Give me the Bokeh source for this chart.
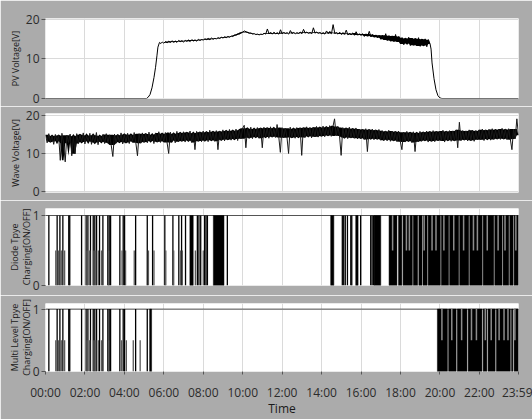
import numpy as np
from bokeh.plotting import figure
from bokeh.models import Range1d, FixedTicker, ColumnDataSource
from bokeh.layouts import column
from bokeh.embed import file_html
from bokeh.resources import INLINE

# ---------------- data ----------------
tick_minutes = [0, 120, 240, 360, 480, 600, 720, 840, 960, 1080, 1200, 1320, 1439]
tick_labels = ["00:00", "02:00", "04:00", "06:00", "08:00", "10:00", "12:00",
               "14:00", "16:00", "18:00", "20:00", "22:00", "23:59"]

# PV voltage: night zeros, morning ramp, 5-minute samples 06:00-19:30, evening drop
pv_ramp_h = [0.0, 5.12, 5.2, 5.3, 5.4, 5.5, 5.58, 5.65, 5.7, 5.78, 5.85, 5.92]
pv_ramp_v = [0.0, 0.0, 0.3, 1.0, 2.7, 5.3, 7.9, 10.8, 13.0, 14.2, 13.9, 14.3]
pv_day_v = [
    14.0, 14.4, 14.1, 14.5, 14.2, 14.6, 14.3, 14.5, 14.2, 14.7, 14.4, 14.6,
    14.3, 14.7, 14.5, 14.8, 14.4, 14.9, 14.6, 14.8, 14.5, 15.0, 14.7, 14.9,
    14.8, 15.1, 14.9, 15.2, 14.9, 15.3, 15.0, 15.2, 15.1, 15.4, 15.2, 15.5,
    15.3, 15.6, 15.4, 15.7, 15.5, 15.8, 15.7, 16.1, 16.0, 16.4, 16.3, 16.7,
    16.8, 17.1, 16.9, 16.7, 16.5, 16.6, 16.3, 16.4, 16.2, 16.3, 16.1, 16.3,
    16.2, 16.5, 16.3, 17.6, 16.4, 16.6, 16.3, 16.8, 16.4, 16.5, 16.3, 17.4,
    16.4, 16.7, 16.5, 16.6, 16.3, 17.2, 16.5, 16.7, 16.4, 16.6, 16.5, 16.8,
    16.4, 17.5, 16.6, 16.8, 16.5, 16.7, 16.4, 17.9, 16.6, 16.8, 16.5, 16.7,
    16.4, 16.6, 16.3, 17.1, 16.5, 16.7, 16.4, 18.7, 16.5, 16.6, 16.3, 16.8,
    16.2, 16.5, 16.3, 17.3, 16.1, 16.4, 16.2, 16.6, 16.0, 16.9, 16.1, 16.3,
    16.0, 16.4, 15.7, 16.3, 15.8, 17.0, 15.6, 16.2, 15.5, 16.1, 15.4, 16.0,
    15.0, 16.0, 14.8, 16.4, 14.7, 15.9, 14.5, 15.8, 14.4, 16.2, 14.3, 15.7,
    13.8, 15.4, 13.6, 15.2, 13.9, 15.5, 13.4, 15.3, 13.5, 15.1, 13.3, 15.4,
    13.2, 15.0, 13.4, 15.1, 13.1, 14.9, 13.8,
]
pv_drop_h = [19.55, 19.6, 19.7, 19.8, 19.9, 20.0, 20.1, 23.983]
pv_drop_v = [12.5, 9.0, 5.0, 2.2, 0.7, 0.15, 0.0, 0.0]

# Wave voltage: 5-minute samples over the day
wave_v = [
    14.9, 12.8, 15.2, 13.1, 14.6, 12.4, 15.0, 13.3, 14.7, 8.2, 15.3, 12.7,
    7.8, 14.8, 12.9, 15.1, 9.4, 14.5, 9.9, 15.2, 12.6, 14.9, 13.0, 15.4,
    12.5, 14.7, 13.2, 15.3, 12.4, 14.8, 12.9, 15.5, 12.3, 14.6, 13.1, 15.0,
    12.6, 15.2, 12.8, 14.9, 12.2, 9.2, 15.1, 12.7, 14.8, 13.0, 15.4, 12.5,
    15.0, 12.9, 15.3, 12.6, 14.9, 13.2, 15.5, 12.8, 9.4, 15.2, 12.7, 15.4,
    13.0, 15.1, 12.8, 15.6, 13.3, 14.9, 12.6, 15.4, 13.1, 15.7, 12.9, 15.2,
    13.2, 15.5, 12.9, 10.0, 15.6, 13.4, 15.2, 12.8, 15.8, 13.1, 15.4, 13.3,
    15.7, 13.0, 15.5, 13.4, 15.9, 12.9, 15.3, 11.0, 15.8, 13.3, 15.6, 13.1,
    15.9, 13.4, 15.6, 13.1, 16.1, 13.5, 15.7, 13.2, 16.0, 11.0, 15.8, 13.6,
    16.2, 13.3, 15.9, 13.7, 16.3, 13.5, 16.0, 13.8, 16.4, 13.4, 16.1, 13.9,
    16.6, 17.4, 11.5, 16.5, 14.1, 16.9, 13.9, 16.4, 14.3, 16.8, 14.0, 16.6,
    11.5, 16.9, 14.3, 16.7, 14.0, 17.0, 14.4, 16.6, 14.2, 17.6, 14.5, 10.3,
    16.8, 14.1, 16.6, 14.4, 10.0, 16.9, 14.2, 16.5, 14.0, 16.8, 14.3, 16.7,
    9.5, 16.8, 14.2, 17.0, 14.5, 16.7, 14.1, 16.9, 14.4, 17.1, 14.3, 16.8,
    14.6, 17.2, 14.4, 16.9, 14.7, 17.3, 14.5, 17.0, 19.1, 14.6, 17.1, 14.8,
    9.5, 16.8, 14.2, 16.6, 13.9, 16.9, 14.1, 16.5, 14.0, 16.7, 13.8, 16.4,
    14.0, 16.3, 13.7, 16.5, 10.5, 16.2, 13.9, 16.4, 13.6, 16.1, 13.8, 16.3,
    13.5, 16.0, 13.3, 15.8, 13.6, 16.1, 13.2, 15.9, 13.4, 15.7, 13.1, 15.9,
    13.2, 11.0, 15.6, 13.0, 15.8, 13.3, 15.5, 12.9, 15.7, 10.5, 15.4, 13.1,
    15.8, 13.2, 15.6, 13.4, 15.9, 13.0, 15.7, 13.3, 16.0, 13.1, 15.8, 13.4,
    15.9, 13.3, 16.1, 13.0, 15.8, 13.5, 16.0, 13.2, 15.9, 13.4, 16.2, 11.5,
    18.2, 13.4, 16.0, 13.6, 15.9, 13.3, 16.2, 13.5, 16.1, 13.2, 15.9, 13.6,
    16.2, 13.6, 16.4, 13.4, 16.1, 13.8, 16.3, 13.5, 16.5, 13.7, 16.2, 13.9,
    16.4, 13.7, 16.6, 13.9, 16.3, 13.6, 16.5, 13.8, 11.0, 16.4, 13.9, 19.1,
    14.8,
]

# Diode type charging: OFF spikes (full), partial spikes (half) and dense switching blocks (hours)
diode_full_h = [0.17, 0.59, 0.73, 0.88, 1.18, 1.23, 1.83, 2.06, 2.15, 2.28, 2.42, 2.50,
                2.59, 2.74, 2.91, 3.16, 3.23, 3.30, 3.77, 3.94, 4.01, 4.57, 5.16, 5.43,
                6.05, 6.46, 6.76, 6.90, 7.10, 7.70, 7.78, 7.87, 8.07, 8.14, 8.21, 9.22,
                15.05, 15.12, 15.20, 15.31, 15.48, 15.53, 15.98, 16.49, 16.56, 16.63]
diode_half_h = [0.52, 0.66, 0.80, 0.97, 2.11, 2.24, 2.46, 2.55, 2.68, 2.84, 3.20, 3.88,
                4.06, 4.50, 5.22, 5.50, 6.10, 6.50, 6.85, 6.94, 7.60, 8.00]
diode_block_start = [7.32, 8.51, 14.46, 15.73, 16.66, 17.42, 17.90, 18.13, 18.65, 18.93, 19.14,
                     19.40, 20.07, 20.49, 21.00, 21.51, 22.19, 22.78, 23.20, 23.54, 23.76]
diode_block_end = [7.49, 9.05, 14.62, 15.85, 17.00, 17.82, 18.07, 18.60, 18.87, 19.09, 19.35,
                   20.02, 20.44, 20.95, 21.46, 22.14, 22.73, 23.15, 23.49, 23.71, 23.98]
diode_upper_h = [17.6, 18.3, 18.45, 19.2, 19.6, 19.8, 20.2, 20.7, 21.2, 21.7, 21.9, 22.4,
                 22.95, 23.3, 23.85]

# Multi level type charging
multi_full_h = [0.17, 0.59, 0.73, 0.88, 1.18, 1.23, 1.83, 2.06, 2.15, 2.28, 2.42, 2.50,
                2.59, 2.74, 2.91, 3.16, 3.23, 3.30, 3.77, 3.94, 4.01, 4.57, 5.16]
multi_half_h = [0.52, 0.66, 0.80, 0.97, 2.11, 2.24, 2.46, 2.55, 2.68, 2.84, 3.20, 3.86,
                4.10, 4.45, 4.80]
multi_block_start = [5.28, 19.87, 20.44, 20.88, 21.43, 22.19, 22.44, 22.86, 23.63, 23.76]
multi_block_end = [5.38, 20.38, 20.82, 21.37, 22.13, 22.38, 22.80, 23.57, 23.70, 23.98]
multi_upper_h = [20.1, 20.6, 21.1, 21.6, 21.85, 22.3, 22.6, 23.0, 23.25, 23.45, 23.8]

# ---------------- styling ----------------
BG = "#ababab"
FONT = "Open Sans"
X_END = 1439
H2M = 60.0


def make_fig(height, top, bottom, yr, yticks, ylabel, show_x=False, two_line=False):
    p = figure(width=532, height=height, x_range=Range1d(0, X_END), y_range=Range1d(*yr),
               output_backend="svg", toolbar_location=None,
               min_border_left=45, min_border_right=14,
               min_border_top=top, min_border_bottom=bottom)
    p.background_fill_color = "white"
    p.border_fill_color = BG
    p.outline_line_color = None
    p.xaxis.ticker = FixedTicker(ticks=tick_minutes)
    p.xgrid.ticker = FixedTicker(ticks=tick_minutes)
    p.xaxis.major_label_overrides = {m: l for m, l in zip(tick_minutes, tick_labels)}
    p.yaxis.ticker = FixedTicker(ticks=yticks)
    p.ygrid.ticker = FixedTicker(ticks=yticks)
    p.grid.grid_line_color = "#dadada"
    p.grid.grid_line_width = 1
    for ax in p.axis:
        ax.axis_line_color = None
        ax.minor_tick_line_color = None
        ax.major_tick_in = 0
        ax.major_tick_line_color = "#555555"
        ax.major_label_text_font = FONT
        ax.major_label_text_font_size = "12px"
        ax.major_label_text_color = "#2b2b2b"
        ax.axis_label_text_font = FONT
        ax.axis_label_text_font_style = "normal"
        ax.axis_label_text_color = "#1a1a1a"
    p.yaxis.major_tick_out = 4
    p.yaxis.major_label_standoff = 2
    p.yaxis.axis_label = ylabel
    p.yaxis.axis_label_text_font_size = "9px"
    if two_line:
        p.yaxis.axis_label_text_line_height = 0.9
        p.yaxis.axis_label_standoff = -3
    else:
        p.yaxis.axis_label_standoff = 1
    p.xaxis.major_tick_out = 3
    if show_x:
        p.xaxis.major_label_standoff = 9
        p.xaxis.axis_label = "Time"
        p.xaxis.axis_label_text_font_size = "12px"
        p.xaxis.axis_label_standoff = -4
    else:
        p.xaxis.visible = False
    return p


def core_band(v, w=5):
    """Robust noise envelope: 2nd lowest / 2nd highest value in a sliding window."""
    v = np.asarray(v, dtype=float)
    lo, hi = [], []
    for i in range(len(v)):
        seg = np.sort(v[max(0, i - w // 2): i + w // 2 + 1])
        lo.append(seg[1] if len(seg) > 2 else seg[0])
        hi.append(seg[-2] if len(seg) > 2 else seg[-1])
    return np.array(lo), np.array(hi)


# Panel 1: PV voltage
p1 = make_fig(106, 18, 8, (0, 20.25), [0, 10, 20], "PV Voltage[V]")
pv_day_h = 6.0 + np.arange(len(pv_day_v)) / 12.0
pv_lo, pv_hi = core_band(pv_day_v)
p1.varea(x=pv_day_h * H2M, y1=pv_lo, y2=pv_hi, fill_color="black")
pv_h = np.concatenate([pv_ramp_h, pv_day_h, pv_drop_h])
pv_v = np.concatenate([pv_ramp_v, pv_day_v, pv_drop_v])
p1.line(pv_h * H2M, pv_v, line_color="black", line_width=1)

# Panel 2: Wave voltage
p2 = make_fig(94, 7, 8, (-0.25, 20.5), [0, 10, 20], "Wave Voltage[V]")
wave_t = np.linspace(0, X_END, len(wave_v))
w_lo, w_hi = core_band(wave_v)
p2.varea(x=wave_t, y1=w_lo, y2=w_hi, fill_color="black")
p2.line(wave_t, wave_v, line_color="#1a1a1a", line_width=1)


def digital(p, full_h, half_h, bstart, bend, upper_h):
    p.line([0, X_END], [1, 1], line_color="#555555", line_width=1)
    fh = np.array(full_h) * H2M
    p.segment(x0=fh, y0=0, x1=fh, y1=1, line_color="black", line_width=1.3)
    hh = np.array(half_h) * H2M
    p.segment(x0=hh, y0=0, x1=hh, y1=0.5, line_color="#5a5a5a", line_width=1.3)
    src = ColumnDataSource(dict(left=np.array(bstart) * H2M, right=np.array(bend) * H2M))
    p.quad(left="left", right="right", bottom=0, top=1, source=src,
           fill_color="black", line_color="black", line_width=0.5)
    uh = np.array(upper_h) * H2M
    p.segment(x0=uh, y0=0.5, x1=uh, y1=1, line_color="#8c8c8c", line_width=1.5)


p3 = make_fig(95, 8, 10, (0, 1.1), [0, 1], "Diode Tpye\nCharging[ON/OFF]", two_line=True)
digital(p3, diode_full_h, diode_half_h, diode_block_start, diode_block_end, diode_upper_h)

p4 = make_fig(124, 8, 40, (0, 1.09), [0, 1], "Multi Level Tpye\nCharging[ON/OFF]",
              show_x=True, two_line=True)
digital(p4, multi_full_h, multi_half_h, multi_block_start, multi_block_end, multi_upper_h)

layout = column(p1, p2, p3, p4, spacing=0)
open("out.html", "w").write(file_html(layout, INLINE))
